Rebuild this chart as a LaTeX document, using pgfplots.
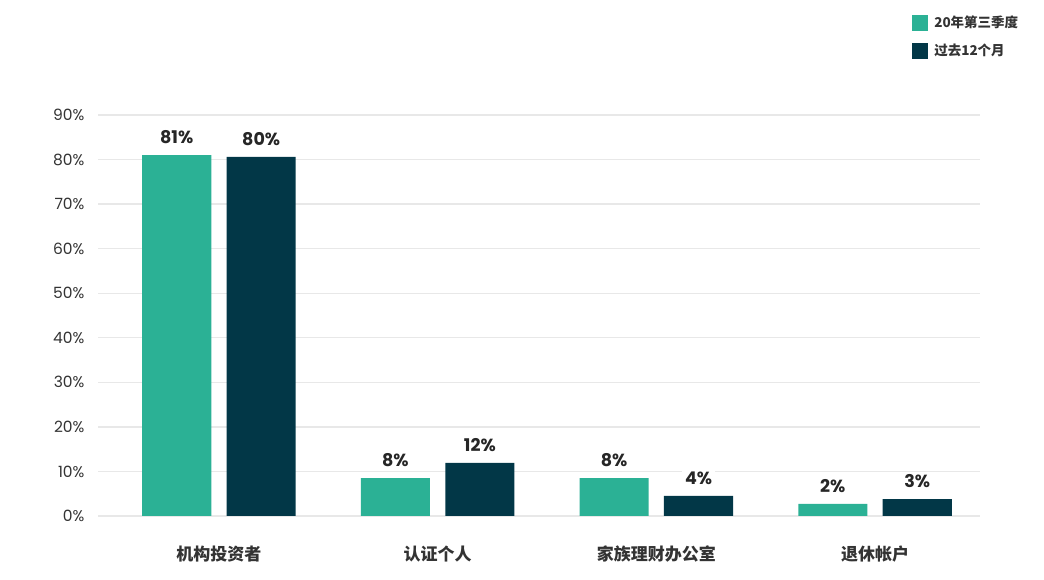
\documentclass[border=0pt]{standalone}
\usepackage{pgfplots}
\pgfplotsset{compat=1.18}
\usepackage{pgfplotstable}
\usepackage{fontspec}
\setmainfont{Poppins}
\newfontfamily\cjk{Noto Sans CJK SC}

\definecolor{qthree}{HTML}{2BB195}
\definecolor{qtwelve}{HTML}{023747}
\definecolor{gridgray}{HTML}{E8E8E8}
\definecolor{ticktext}{HTML}{333333}

% x = category index, y = bar height, label = printed value
\pgfplotstableread{
x y label
0 81.0 81
1 8.5 8
2 8.5 8
3 2.7 2
}\qthreedata
\pgfplotstableread{
x y label
0 80.6 80
1 11.9 12
2 4.5 4
3 3.8 3
}\qtwelvedata

\begin{document}
\begin{tikzpicture}[x=1pt,y=1pt]
  \path (0,0) rectangle (1044,580);
  \begin{axis}[
    at={(98pt,64pt)}, anchor=south west,
    scale only axis,
    width=882pt, height=401pt,
    xmin=-0.553, xmax=3.48,
    ymin=0, ymax=90,
    axis line style={draw=none},
    tick style={draw=none},
    ymajorgrids,
    grid style={draw=gridgray, line width=1.3pt},
    ytick={0,10,...,90},
    yticklabel={\pgfmathprintnumber{\tick}\%},
    /pgf/number format/assume math mode=true,
    yticklabel style={font=\fontsize{15.5}{18}\selectfont, text=ticktext, xshift=-10pt},
    xtick={0,1,2,3},
    xticklabels={机构投资者,认证个人,家族理财办公室,退休帐户},
    xticklabel style={font=\cjk\bfseries\fontsize{17}{20}\selectfont, text=ticktext, yshift=-22pt},
    ybar,
    bar width=0.316,
    clip=false,
    point meta=explicit symbolic,
    nodes near coords={\pgfplotspointmeta\%},
    nodes near coords style={font=\bfseries\fontsize{17.5}{20}\selectfont, text=black!85,
      fill=white, inner sep=3pt, anchor=south, yshift=8pt},
    legend style={at={(0.923,1.252)}, anchor=north west, draw=none,
      font=\cjk\bfseries\fontsize{13.5}{16}\selectfont, text=ticktext,
      row sep=11pt, inner sep=0pt},
    legend cell align=left,
    legend image code/.code={\fill[#1] (0pt,-8pt) rectangle (16pt,8pt);},
    legend style={nodes={inner xsep=6pt}},
  ]
    \addplot[fill=qthree, draw=none, bar shift=-0.193] table[x=x, y=y, meta=label] {\qthreedata};
    \addlegendentry{20年第三季度}
    \addplot[fill=qtwelve, draw=none, bar shift=0.193] table[x=x, y=y, meta=label] {\qtwelvedata};
    \addlegendentry{过去12个月}
  \end{axis}
\end{tikzpicture}
\end{document}
